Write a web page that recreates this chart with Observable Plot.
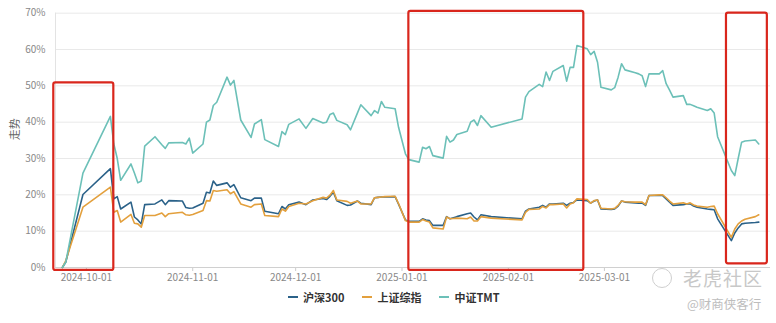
<!DOCTYPE html>
<html><head><meta charset="utf-8">
<script src="https://cdn.jsdelivr.net/npm/d3@7"></script>
<script src="https://cdn.jsdelivr.net/npm/@observablehq/plot@0.6"></script>
<style>
body{margin:0;background:#fff;font-family:'Noto Sans CJK SC','Noto Sans',sans-serif;}
#wrap{position:relative;width:776px;height:323px;overflow:hidden;background:#fff}
#legend{position:absolute;left:288px;top:290px;height:14px;display:flex;align-items:center;font-size:11px;font-weight:bold;color:#333;line-height:14px}
#legend .item{display:flex;align-items:center;margin-right:18px}
#legend .sw{width:10px;height:2px;margin-right:5px}
.wm{position:absolute;color:#c8c8c8;white-space:nowrap}
#logo{position:absolute;left:652px;top:268px;width:18px;height:18px;border:1.5px solid #cfcfcf;border-radius:50%}
</style></head><body>
<div id="wrap">
<div id="chart"></div>
<div id="legend"></div>
<div id="logo"></div>
<div class="wm" style="left:683px;top:264px;font-size:19px;letter-spacing:1px">老虎社区</div>
<div class="wm" style="left:687px;top:294px;font-size:12.5px;color:#bdbdbd">@财商侠客行</div>
</div>
<script>
const dates = ["2024-09-24","2024-09-25","2024-09-30","2024-10-08","2024-10-09","2024-10-10","2024-10-11","2024-10-14","2024-10-15","2024-10-16","2024-10-17","2024-10-18","2024-10-21","2024-10-23","2024-10-24","2024-10-25","2024-10-29","2024-10-30","2024-10-31","2024-11-01","2024-11-04","2024-11-05","2024-11-06","2024-11-07","2024-11-08","2024-11-11","2024-11-12","2024-11-13","2024-11-15","2024-11-18","2024-11-19","2024-11-21","2024-11-22","2024-11-26","2024-11-27","2024-11-28","2024-11-29","2024-12-02","2024-12-04","2024-12-06","2024-12-09","2024-12-10","2024-12-11","2024-12-12","2024-12-13","2024-12-16","2024-12-17","2024-12-19","2024-12-20","2024-12-23","2024-12-24","2024-12-25","2024-12-26","2024-12-27","2024-12-30","2024-12-31","2025-01-02","2025-01-03","2025-01-06","2025-01-07","2025-01-08","2025-01-09","2025-01-10","2025-01-13","2025-01-14","2025-01-15","2025-01-16","2025-01-17","2025-01-20","2025-01-21","2025-01-22","2025-01-23","2025-01-24","2025-01-27","2025-02-05","2025-02-06","2025-02-07","2025-02-10","2025-02-11","2025-02-12","2025-02-13","2025-02-14","2025-02-17","2025-02-18","2025-02-19","2025-02-20","2025-02-21","2025-02-24","2025-02-25","2025-02-26","2025-02-27","2025-02-28","2025-03-03","2025-03-04","2025-03-05","2025-03-06","2025-03-07","2025-03-10","2025-03-11","2025-03-12","2025-03-13","2025-03-14","2025-03-17","2025-03-18","2025-03-19","2025-03-20","2025-03-21","2025-03-24","2025-03-25","2025-03-26","2025-03-27","2025-03-28","2025-03-31","2025-04-01","2025-04-02","2025-04-03","2025-04-07","2025-04-08","2025-04-09","2025-04-10","2025-04-11","2025-04-14","2025-04-15"];

const tmt = [0,1.5,26.0,41.6,34.0,30.0,24.0,28.5,26.0,23.3,23.8,33.4,36.0,33.8,32.8,34.3,34.4,34.0,35.6,31.5,34.0,40.0,40.6,44.6,45.5,52.4,50.2,51.5,40.6,35.8,39.5,40.7,35.2,33.3,37.4,36.6,39.4,40.9,38.3,41.0,39.8,40.0,42.1,42.5,40.5,39.3,37.9,42.5,44.8,41.8,43.2,42.5,45.7,44.1,43.7,38.6,31.3,29.7,29.0,33.1,32.7,33.3,30.8,30.1,36.1,34.5,35.1,36.6,37.5,40.0,40.6,39.1,41.8,38.6,40.9,46.9,48.4,50.4,49.8,53.8,51.5,54.0,55.6,51.3,55.1,55.1,61.1,60.2,58.6,59.5,56.5,49.6,48.9,49.5,52.4,56.1,54.4,53.6,53.3,52.8,49.8,53.3,53.3,54.2,50.6,48.8,46.9,47.3,44.9,44.9,44.5,44.1,43.2,43.7,42.5,36.0,26.7,25.3,30.0,34.5,34.8,35.1,34.0];

const hs300 = [0,1.5,20.1,27.2,18.9,19.5,16.1,18.0,13.9,13.1,12.0,17.3,17.5,18.6,17.3,18.4,18.3,16.5,16.3,16.4,17.7,20.7,20.5,23.8,22.6,23.3,22.1,22.8,19.2,18.4,19.1,19.1,15.5,14.8,16.8,16.1,17.3,18.0,17.3,18.6,19.0,18.7,19.6,20.7,18.4,17.1,17.2,18.3,17.7,17.3,19.2,19.3,19.4,19.4,19.5,17.4,13.1,12.7,12.7,13.4,13.1,12.9,11.6,11.6,14.0,13.4,13.7,14.0,14.8,15.0,13.9,13.1,14.5,14.0,13.4,15.5,16.1,16.6,17.1,16.6,17.5,17.5,17.7,17.1,17.7,17.9,18.6,18.4,17.7,18.3,18.6,16.1,16.0,16.1,16.9,18.3,18.0,17.8,17.7,17.7,17.1,19.8,19.8,19.8,18.9,18.0,17.1,17.3,17.5,17.5,16.9,16.6,16.1,16.0,15.9,13.4,7.4,9.5,10.9,12.0,12.2,12.4,12.5];

const szzz = [0,1.9,16.6,22.1,15.2,15.7,12.5,14.6,12.2,12.0,11.1,14.3,14.3,15.0,14.0,14.8,15.2,14.5,14.4,14.6,15.7,18.4,18.3,21.2,21.0,21.4,20.3,20.9,17.5,16.6,17.3,17.5,14.3,14.0,16.1,15.5,16.8,17.7,17.5,18.4,19.3,19.1,19.9,21.2,18.6,18.2,17.7,18.3,17.5,17.5,19.2,19.3,19.4,19.5,19.6,17.6,12.9,12.5,12.5,13.2,12.8,12.5,10.9,10.6,13.9,13.4,13.5,13.6,13.4,13.9,12.8,12.8,14.0,13.6,13.1,15.2,16.0,16.1,16.8,16.4,17.3,17.3,17.5,16.4,17.5,17.8,18.9,18.7,17.7,18.4,18.6,16.3,16.1,16.3,17.1,18.3,18.1,18.0,18.0,18.0,17.3,19.8,20.0,20.0,19.2,18.3,17.5,17.8,17.5,17.8,17.2,16.9,16.6,16.8,16.9,14.8,8.3,10.6,12.0,12.8,13.3,14.0,14.5];

const seriesNames = ["沪深300", "上证综指", "中证TMT"];
const seriesColors = ["#2b6289", "#e3a03d", "#6cc0b8"];
const yTicks = [0, 10, 20, 30, 40, 50, 60, 70];
const xTickLabels = ["2024-10-01", "2024-11-01", "2024-12-01", "2025-01-01", "2025-02-01", "2025-03-01"];
const xDomain = ["2024-09-22T00:00Z", "2025-04-18T10:00Z"];
const yTitle = "走势";

// highlight boxes (red annotation frames)
const boxStart = ["2024-09-21T12:00Z", "2025-01-03T00:00Z", "2025-04-05T14:00Z"];
const boxEnd = ["2024-10-09T00:00Z", "2025-02-23T00:00Z", "2025-04-17T12:00Z"];
const boxLow = [-0.8, -0.8, 1.0];
const boxHigh = [50.8, 70.5, 70.0];

const toRows = vals => dates.map((d, i) => ({date: new Date(d + "T00:00Z"), v: vals[i]}));
const seriesValues = [hs300, szzz, tmt];
const boxes = boxStart.map((s, i) => ({x1: new Date(s), x2: new Date(boxEnd[i]), y1: boxLow[i], y2: boxHigh[i]}));
const fmt = d3.utcFormat("%Y-%m-%d");

const chart = Plot.plot({
  width: 776, height: 290,
  marginLeft: 55, marginRight: 6, marginTop: 12.7, marginBottom: 23,
  style: {fontFamily: "'Noto Sans CJK SC','Noto Sans',sans-serif", fontSize: "10px", color: "#888", background: "transparent", overflow: "visible"},
  x: {type: "utc", domain: xDomain.map(d => new Date(d))},
  y: {domain: [0, 70]},
  marks: [
    Plot.gridY(yTicks, {stroke: "#e9e9e9", strokeOpacity: 1}),
    Plot.ruleX([new Date(xDomain[0])], {stroke: "#e3e3e3"}),
    Plot.axisY(yTicks, {tickSize: 0, tickPadding: 10, tickFormat: d => d + "%", label: null}),
    Plot.axisX(xTickLabels.map(d => new Date(d + "T00:00Z")), {tickSize: 4, tickPadding: 2, tickFormat: fmt, stroke: "#ccc", label: null}),
    Plot.ruleY([0], {stroke: "#d0d0d0"}),
    ...seriesValues.map((vals, i) => Plot.line(toRows(vals), {x: "date", y: "v", stroke: seriesColors[i], strokeWidth: 1.6})),
    Plot.rect(boxes, {x1: "x1", x2: "x2", y1: "y1", y2: "y2", fill: "none", stroke: "#d9261c", strokeWidth: 2.2, rx: 2}),
    Plot.text([yTitle], {frameAnchor: "left", dx: -40, rotate: -90, fontSize: 11, fill: "#666"})
  ]
});
document.getElementById("chart").append(chart);

const legend = document.getElementById("legend");
seriesNames.forEach((n, i) => {
  const it = document.createElement("div");
  it.className = "item";
  it.innerHTML = `<span class="sw" style="background:${seriesColors[i]}"></span><span>${n}</span>`;
  legend.append(it);
});
</script>
</body></html>
